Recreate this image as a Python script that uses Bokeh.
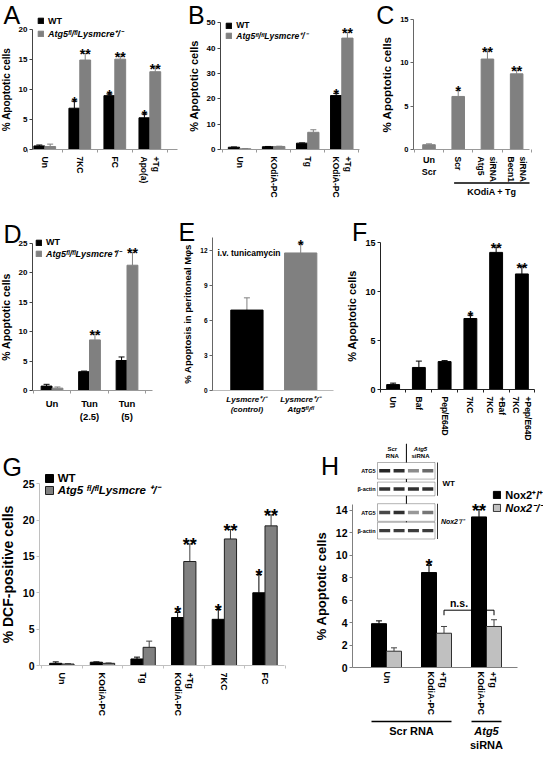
import numpy as np
from bokeh.plotting import figure
from bokeh.models import (Range1d, FixedTicker, ColumnDataSource, Whisker, TeeHead,
                          Label, Legend, LegendItem, BoxAnnotation)
from bokeh.layouts import row, column
from bokeh.core.properties import value
from bokeh.embed import file_html
from bokeh.resources import INLINE

FONT = "Liberation Sans"
BLACK = "#000000"
GREY = "#808080"
LIGHT = "#c0c0c0"

# ---------------- data ----------------
cats_A = ["Un", "7KC", "FC", "Apo(a)\n+Tg"]
wt_A = [0.6, 6.9, 9.0, 5.3]
wt_A_err = [0.15, 1.2, 0.3, 0.65]
ko_A = [0.5, 14.95, 15.1, 13.0]
ko_A_err = [0.4, 1.1, 0.5, 0.7]
wt_A_sig = ["", "*", "*", "*"]
ko_A_sig = ["", "**", "**", "**"]
yticks_A = [0, 5, 10, 15, 20]

cats_B = ["Un", "KOdiA-PC", "Tg", "KOdiA-PC\n+Tg"]
wt_B = [0.9, 1.1, 2.5, 21.3]
wt_B_err = [0.1, 0.1, 0.1, 0.9]
ko_B = [0.3, 1.2, 6.8, 44.0]
ko_B_err = [0.1, 0.1, 1.0, 2.3]
wt_B_sig = ["", "", "", "*"]
ko_B_sig = ["", "", "", "**"]
yticks_B = [0, 10, 20, 30, 40, 50]

cats_C = ["Un\nScr", "Scr", "Atg5\nsiRNA", "Becn1\nsiRNA"]
val_C = [0.55, 6.1, 10.4, 8.7]
err_C = [0.1, 0.7, 0.95, 0.45]
sig_C = ["", "*", "**", "**"]
yticks_C = [0, 5, 10, 15]
group_C = "KOdiA + Tg"
group_C_members = [1, 2, 3]

cats_D = ["Un", "Tun\n(2.5)", "Tun\n(5)"]
wt_D = [0.75, 3.2, 5.1]
wt_D_err = [0.3, 0.1, 0.6]
ko_D = [0.4, 8.6, 21.3]
ko_D_err = [0.2, 1.0, 2.2]
ko_D_sig = ["", "**", "**"]
yticks_D = [0, 5, 10, 15, 20, 25]

cats_E = ["Lysmcre\u207a/\u207b\n(control)", "Lysmcre\u207a/\u207b\nAtg5\u1da0\u02e1/\u1da0\u02e1"]
val_E = [6.9, 11.8]
err_E = [1.05, 0.8]
sig_E = ["", "*"]
yticks_E = [0, 3, 6, 9, 12]

cats_F = ["Un", "Baf", "Pep/E64D", "7KC", "7KC\n+Baf", "7KC\n+Pep/E64D"]
val_F = [0.5, 2.25, 2.85, 7.25, 14.0, 11.8]
err_F = [0.15, 0.65, 0.1, 0.35, 0.55, 0.75]
sig_F = ["", "", "", "*", "**", "**"]
yticks_F = [0, 5, 10, 15]

cats_G = ["Un", "KOdiA-PC", "Tg", "KOdiA-PC\n+Tg", "7KC", "FC"]
wt_G = [0.3, 0.45, 0.9, 6.6, 6.35, 10.0]
wt_G_err = [0.2, 0.05, 0.25, 0.7, 1.35, 2.5]
ko_G = [0.2, 0.3, 2.5, 14.3, 17.4, 19.2]
ko_G_err = [0.05, 0.05, 0.85, 2.4, 1.3, 1.5]
wt_G_sig = ["", "", "", "*", "*", "*"]
ko_G_sig = ["", "", "", "**", "**", "**"]
yticks_G = [0, 5, 10, 15, 20, 25]

cats_H = ["Un", "KOdiA-PC\n+Tg", "KOdiA-PC\n+Tg"]
nox_wt = [3.9, 8.45, 13.4]
nox_wt_err = [0.25, 0.65, 0.65]
nox_ko = [1.45, 3.05, 3.65]
nox_ko_err = [0.3, 0.6, 0.6]
nox_wt_sig = ["", "*", "**"]
yticks_H = [0, 2, 4, 6, 8, 10, 12, 14]
groups_H = ["Scr RNA", "Atg5"]
group_H_members = [[0, 1], [2]]
blot_rows = ["ATG5", "\u03b2-actin", "ATG5", "\u03b2-actin"]
blot_bands = [[0.95, 0.9, 0.5, 0.65],
              [0.9, 0.9, 0.9, 0.9],
              [0.8, 0.9, 0.45, 0.6],
              [0.85, 0.85, 0.85, 0.85]]

WT_LABEL = "WT"
KO_LABEL = "Atg5\u1da0\u02e1/\u1da0\u02e1Lysmcre\u207a/\u207b"


# ---------------- helpers ----------------
def mk(w, h, L, R, B, xr, ymax):
    """Frame covers the whole figure; axes are pinned at the data origin."""
    ppx = (w - L - R) / (xr[1] - xr[0])
    ppy = (h - B) / ymax
    p = figure(width=w, height=h,
               x_range=Range1d(xr[0] - L / ppx, xr[1] + R / ppx),
               y_range=Range1d(-B / ppy, ymax),
               output_backend="svg", toolbar_location=None, min_border=0)
    p.outline_line_color = None
    p.xgrid.visible = False
    p.ygrid.visible = False
    p.border_fill_color = "white"
    p.background_fill_color = "white"
    p.xaxis[0].fixed_location = 0
    p.xaxis[0].bounds = (xr[0], xr[1])
    p.yaxis[0].fixed_location = xr[0]
    return p


def yax(p, ticks, bound, tsize, label, lsize, color):
    a = p.yaxis[0]
    a.ticker = FixedTicker(ticks=ticks)
    a.bounds = (0, bound)
    a.axis_line_color = color
    a.major_tick_line_color = color
    a.minor_tick_line_color = None
    a.major_tick_out = 3
    a.major_tick_in = 0
    a.major_label_standoff = 2
    a.major_label_text_font = FONT
    a.major_label_text_font_size = tsize
    a.major_label_text_font_style = "bold"
    a.major_label_text_color = "black"
    a.axis_label = label
    a.axis_label_text_font = FONT
    a.axis_label_text_font_size = lsize
    a.axis_label_text_font_style = "bold"
    a.axis_label_text_color = "black"
    a.axis_label_standoff = 4


def xax(p, cats, tsize, orient, color, style="bold", blank=()):
    n = len(cats)
    a = p.xaxis[0]
    a.ticker = FixedTicker(ticks=list(range(n)), minor_ticks=[i + 0.5 for i in range(-1, n)])
    labels = {}
    for i, c in enumerate(cats):
        if i in blank:
            labels[i] = ""
        elif orient == "vertical":
            labels[i] = "\n".join(reversed(c.split("\n")))
        else:
            labels[i] = c
    a.major_label_overrides = labels
    a.major_tick_out = 0
    a.major_tick_in = 0
    a.minor_tick_out = 3
    a.minor_tick_in = 0
    a.minor_tick_line_color = color
    a.axis_line_color = color
    a.major_label_orientation = orient
    a.major_label_standoff = 4
    a.major_label_text_font = FONT
    a.major_label_text_font_size = tsize
    a.major_label_text_font_style = style
    a.major_label_text_color = "black"


def series(p, xs, vals, errs, width, fill, line, ecolor, sig=None, ssize="14px", cap=6):
    hi = [v + e for v, e in zip(vals, errs)]
    src = ColumnDataSource(dict(x=list(xs), top=list(vals), hi=hi,
                                sig=list(sig) if sig else [""] * len(vals)))
    r = p.vbar(x="x", top="top", width=width, source=src, fill_color=fill,
               line_color=line, line_width=1)
    p.add_layout(Whisker(source=src, base="x", lower="top", upper="hi", dimension="height",
                         line_color=ecolor, line_width=1,
                         upper_head=TeeHead(size=cap, line_color=ecolor, line_width=1),
                         lower_head=None))
    if sig:
        p.text(x="x", y="hi", text="sig", source=src, text_align="center",
               text_baseline="alphabetic", y_offset=1, text_font=value(FONT),
               text_font_size=ssize, text_font_style="bold", text_color="black")
    return r


def letter(p, text, lx, ly):
    p.add_layout(Label(x=lx, y=p.height - ly, x_units="screen", y_units="screen", text=text,
                       text_font=FONT, text_font_size="25px", text_baseline="top",
                       text_align="left", text_color="black"))


def legend(p, r, label, lx, ltop, size, fsize, style):
    fpx = float(fsize.replace("px", ""))
    h = max(size, fpx * 1.15)
    leg = Legend(items=[LegendItem(label=value(label), renderers=[r])],
                 location=(lx, p.height - ltop - h),
                 glyph_width=size, glyph_height=size, label_height=size, label_width=10,
                 label_standoff=4, padding=0, margin=0, spacing=0,
                 border_line_color=None, background_fill_alpha=0,
                 label_text_font=FONT, label_text_font_size=fsize,
                 label_text_font_style=style, label_text_color="black")
    p.add_layout(leg)


def txt(p, x, ly, text, size, style="bold", xu="data", align="center", base="middle"):
    p.add_layout(Label(x=x, y=p.height - ly, x_units=xu, y_units="screen", text=text,
                       text_font=FONT, text_font_size=size, text_font_style=style,
                       text_align=align, text_baseline=base, text_color="black"))


def hline(p, x0, x1, ly):
    y = p.height - ly
    p.add_layout(BoxAnnotation(left=x0, right=x1, left_units="data", right_units="data",
                               bottom=y - 0.7, top=y + 0.7, bottom_units="screen",
                               top_units="screen", fill_color="black", fill_alpha=1,
                               line_color=None))


def sbox(p, l, r, b, t, fill="black", alpha=1.0, line=None):
    p.add_layout(BoxAnnotation(left=l, right=r, bottom=b, top=t, left_units="screen",
                               right_units="screen", bottom_units="screen", top_units="screen",
                               fill_color=fill, fill_alpha=alpha, line_color=line,
                               line_width=1))


# ---------------- Panel A ----------------
pA = mk(181, 200, 32, 4, 51, (-0.35, 3.79), 24.9)
xA = np.arange(len(cats_A))
rA1 = series(pA, xA - 0.155, wt_A, wt_A_err, 0.31, BLACK, BLACK, BLACK, wt_A_sig)
rA2 = series(pA, xA + 0.155, ko_A, ko_A_err, 0.31, GREY, GREY, GREY, ko_A_sig)
yax(pA, yticks_A, 20, "8px", "% Apoptotic cells", "10px", "#444444")
xax(pA, cats_A, "8.5px", "vertical", "#999999")
letter(pA, "A", 3, 0)
legend(pA, rA1, WT_LABEL, 36.9, 15.6, 7, "9px", "bold")
legend(pA, rA2, KO_LABEL, 36.9, 29.2, 7, "9px", "bold italic")

# ---------------- Panel B ----------------
pB = mk(181, 200, 39, 3, 51, (-0.56, 3.52), 58.85)
xB = np.arange(len(cats_B))
rB1 = series(pB, xB - 0.165, wt_B, wt_B_err, 0.33, BLACK, BLACK, BLACK, wt_B_sig)
rB2 = series(pB, xB + 0.165, ko_B, ko_B_err, 0.33, GREY, GREY, GREY, ko_B_sig)
yax(pB, yticks_B, 50, "8px", "% Apoptotic cells", "11px", "#444444")
xax(pB, cats_B, "8.5px", "vertical", "#999999")
letter(pB, "B", 6.4, 0)
legend(pB, rB1, WT_LABEL, 44.3, 20.5, 7, "8.5px", "bold")
legend(pB, rB2, KO_LABEL, 44.3, 31.2, 7, "8.5px", "bold italic")

# ---------------- Panel C ----------------
pC = mk(181, 200, 51, 14, 51, (-0.53, 3.44), 17.13)
xC = np.arange(len(cats_C))
series(pC, xC, val_C, err_C, 0.43, GREY, GREY, GREY, sig_C)
yax(pC, yticks_C, 15, "7.5px", "% Apoptotic cells", "11.5px", "#666666")
xax(pC, cats_C, "8.5px", "vertical", "#999999", blank=(0,))
txt(pC, 0, 154, cats_C[0], "9px", base="top")
gx0 = min(group_C_members) - 0.14
gx1 = max(group_C_members) + 0.44
hline(pC, gx0, gx1, 182.5)
txt(pC, (gx0 + gx1) / 2, 191.5, group_C, "9px")
letter(pC, "C", 13.8, 0)

# ---------------- Panel D ----------------
pD = mk(178, 240, 32, 26, 50, (-0.52, 2.68), 32.3)
xD = np.arange(len(cats_D))
rD1 = series(pD, xD - 0.145, wt_D, wt_D_err, 0.29, BLACK, BLACK, BLACK)
rD2 = series(pD, xD + 0.145, ko_D, ko_D_err, 0.29, GREY, GREY, GREY, ko_D_sig)
yax(pD, yticks_D, 25, "8px", "% Apoptotic cells", "10.5px", "#444444")
xax(pD, cats_D, "9.5px", "horizontal", "#999999")
letter(pD, "D", 3, 19.5)
legend(pD, rD1, WT_LABEL, 35, 36.9, 7, "9px", "bold")
legend(pD, rD2, KO_LABEL, 35, 50, 7, "9px", "bold italic")

# ---------------- Panel E ----------------
pE = mk(168, 240, 34, 13, 50, (-0.64, 1.61), 16.3)
xE = np.arange(len(cats_E))
series(pE, xE[:1], val_E[:1], err_E[:1], 0.6, BLACK, BLACK, GREY, sig_E[:1])
series(pE, xE[1:], val_E[1:], err_E[1:], 0.6, GREY, GREY, GREY, sig_E[1:])
yax(pE, yticks_E, 13.1, "6.5px", "% Apoptosis in peritoneal M\u03c6s", "9.5px", "#666666")
xax(pE, cats_E, "8px", "horizontal", "#bbbbbb", style="bold italic")
pE.xaxis[0].minor_tick_out = 0
txt(pE, 38.9, 52, "i.v. tunicamycin", "8.5px", xu="screen", align="left")
letter(pE, "E", 0, 17.5)

# ---------------- Panel F ----------------
pF = mk(197, 240, 34, 9, 51, (-0.49, 5.49), 19.3)
xF = np.arange(len(cats_F))
series(pF, xF, val_F, err_F, 0.5, BLACK, BLACK, BLACK, sig_F)
yax(pF, yticks_F, 15, "9px", "% Apoptotic cells", "11px", "#222222")
xax(pF, cats_F, "8.5px", "vertical", "#222222")
letter(pF, "F", 5.5, 17.5)

# ---------------- Panel G ----------------
pG = mk(290, 313, 39, 6, 88, (-0.55, 5.48), 30.94)
xG = np.arange(len(cats_G))
rG1 = series(pG, xG - 0.15, wt_G, wt_G_err, 0.3, BLACK, BLACK, BLACK, wt_G_sig, "18px")
rG2 = series(pG, xG + 0.15, ko_G, ko_G_err, 0.3, GREY, "#202020", "#404040", ko_G_sig, "18px")
yax(pG, yticks_G, 25, "10.5px", "% DCF-positive cells", "14px", "#c0c0c0")
xax(pG, cats_G, "9px", "vertical", "#c0c0c0")
letter(pG, "G", 2, 12.7)
legend(pG, rG1, WT_LABEL, 43.7, 30.4, 10, "11.5px", "bold")
legend(pG, rG2, "Atg5 \u1da0\u02e1/\u1da0\u02e1Lysmcre \u207a/\u207b", 43.7, 44.1, 10, "11.5px", "bold italic")

# ---------------- Panel H ----------------
pH = mk(253, 313, 62, 26, 86, (-0.68, 2.62), 20.2)
xH = np.arange(len(cats_H))
rH1 = series(pH, xH - 0.15, nox_wt, nox_wt_err, 0.3, BLACK, BLACK, BLACK, nox_wt_sig, "18px")
rH2 = series(pH, xH + 0.15, nox_ko, nox_ko_err, 0.3, LIGHT, "#303030", "#404040")
yax(pH, yticks_H, 14.5, "10.5px", "% Apoptotic cells", "13px", "#808080")
xax(pH, cats_H, "9px", "vertical", "#808080")
pH.xaxis[0].minor_tick_out = 0
letter(pH, "H", 30.4, 11.7)
legend(pH, rH1, "Nox2\u207a/\u207a", 202.3, 49, 9, "11px", "bold")
legend(pH, rH2, "Nox2\u207b/\u207b", 202.3, 62.8, 9, "11px", "bold italic")

# n.s. bracket
bx1, bx2 = 1 + 0.15, 2 + 0.15
top_ns = max(nox_ko[1] + nox_ko_err[1], nox_ko[2] + nox_ko_err[2]) + 0.85
pH.multi_line(xs=[[bx1, bx1, bx2, bx2]], ys=[[top_ns - 0.45, top_ns, top_ns, top_ns - 0.45]],
              line_color="black", line_width=1)
pH.text(x=[1.45], y=[top_ns], text=["n.s."], text_align="center", text_baseline="bottom",
        y_offset=-1, text_font=value(FONT), text_font_size="10.5px", text_font_style="bold",
        text_color="black")

# group lines below H
for gname, mem in zip(groups_H, group_H_members):
    g0 = min(mem) - 0.3
    g1 = max(mem) + 0.3
    hline(pH, g0, g1, 281)
    if gname == "Atg5":
        txt(pH, (g0 + g1) / 2, 290.8, gname, "11px", style="bold italic")
        txt(pH, (g0 + g1) / 2, 304.5, "siRNA", "11px")
    else:
        txt(pH, (g0 + g1) / 2, 290.8, gname, "11px")

# western blot inset (screen px: x from figure left, y from figure bottom)
OX, OY = 62, 86
BX0, BX1 = OX + 25, OX + 82.5
BROWS = [(OY + 188.4, OY + 205), (OY + 171.7, OY + 185.4),
         (OY + 146.2, OY + 163.8), (OY + 128.5, OY + 145.2)]
sbox(pH, OX + 53.4, OX + 54.4, BROWS[-1][0], OY + 223.7)
lw = (BX1 - BX0) / 4
for (b, t), name, bands in zip(BROWS, blot_rows, blot_bands):
    sbox(pH, BX0, BX1, b, t, fill="white", line="black")
    mid = (b + t) / 2
    for k, inten in enumerate(bands):
        cx = BX0 + (k + 0.5) * lw
        sbox(pH, cx - 5.5, cx + 5.5, mid - 1.7, mid + 1.7, fill="#1a1a1a", alpha=inten)
    txt(pH, OX + 23, 313 - mid, name, "5.5px", xu="screen", align="right")
sbox(pH, OX + 84.5, OX + 85.3, BROWS[1][0], BROWS[0][1])
sbox(pH, OX + 84.5, OX + 85.3, BROWS[3][0], BROWS[2][1])
txt(pH, OX + 90, 313 - OY - 184.4, "WT", "8px", xu="screen", align="left")
txt(pH, OX + 88.4, 313 - OY - 146.2, "Nox2\u207b/\u207b", "7px", style="bold italic",
    xu="screen", align="left")
txt(pH, OX + 39.8, 313 - OY - 221.7, "Scr", "6px", xu="screen", base="top")
txt(pH, OX + 39.8, 313 - OY - 214.5, "RNA", "6px", xu="screen", base="top")
txt(pH, OX + 68, 313 - OY - 221.7, "Atg5", "6px", style="bold italic", xu="screen", base="top")
txt(pH, OX + 68, 313 - OY - 214.5, "siRNA", "6px", xu="screen", base="top")

layout = column(row(pA, pB, pC), row(pD, pE, pF), row(pG, pH))
open("out.html", "w").write(file_html(layout, INLINE))
